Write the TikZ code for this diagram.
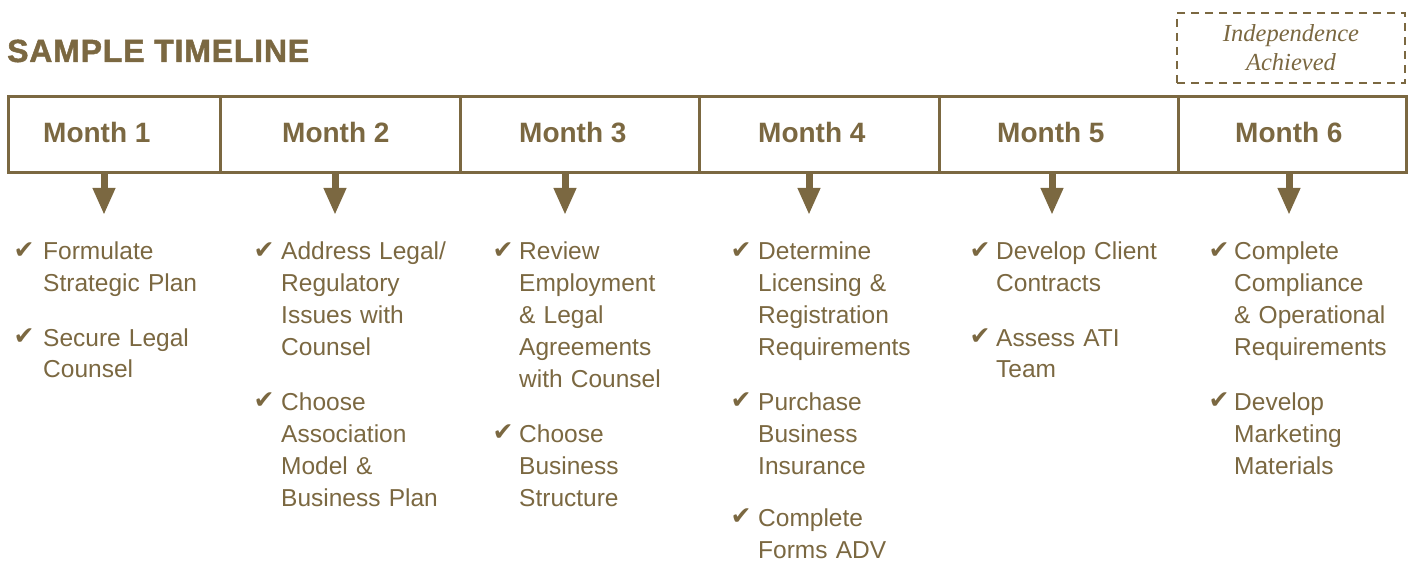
\documentclass[tikz,border=0pt]{standalone}
\usepackage{fontspec}
\usepackage{graphicx}
\setmainfont{Liberation Sans}
\newfontfamily\titlefont{Liberation Sans Bold}[FakeBold=1.5,LetterSpace=2.5]
\newfontfamily\serifit{Liberation Serif Italic}
\newfontfamily\checkfont{DejaVu Sans}
\usetikzlibrary{arrows.meta}
\definecolor{brn}{RGB}{123,104,65}
\tikzset{
  cell/.style={draw=brn, line width=3pt, minimum height=76pt, inner sep=0pt, anchor=north west},
  month/.style={anchor=base west, inner sep=0pt, text=brn, font=\fontsize{28}{30}\selectfont\bfseries},
  item/.style={anchor=base west, inner sep=0pt, text=brn, text width=220pt, align=left, font=\fontsize{24.5}{32}\selectfont},
  chk/.style={inner sep=0pt, text=brn, font=\checkfont\fontsize{25}{25}\selectfont},
  arr/.style={draw=brn, line width=7pt, -{Triangle[width=21pt,length=27pt]}},
}
\begin{document}
\begin{tikzpicture}[x=1pt,y=-1pt]
\useasboundingbox (0,0) rectangle (1411,561);
% title
\node[anchor=base west, inner sep=0pt, text=brn, font=\titlefont\fontsize{32}{34}\selectfont] (title) at (7,62) {SAMPLE TIMELINE};
% independence box
\node[draw=brn, dashed, dash pattern=on 8pt off 6pt, line width=1.6pt, minimum width=228pt, minimum height=70pt, inner sep=0pt, text=brn, align=center, font=\serifit\fontsize{24.5}{29}\selectfont] (indep) at (1291,48) {Independence\\Achieved};
% cells
\node[cell, minimum width=212pt] (c1) at (7,95) {};
\node[cell, minimum width=240pt] (c2) at (219,95) {};
\node[cell, minimum width=239pt] (c3) at (459,95) {};
\node[cell, minimum width=240pt] (c4) at (698,95) {};
\node[cell, minimum width=239pt] (c5) at (938,95) {};
\node[cell, minimum width=228pt] (c6) at (1177,95) {};
% month labels
\node[month] (m1) at (43,143) {Month 1};
\node[month] (m2) at (282,143) {Month 2};
\node[month] (m3) at (519,143) {Month 3};
\node[month] (m4) at (758,143) {Month 4};
\node[month] (m5) at (997,143) {Month 5};
\node[month] (m6) at (1235,143) {Month 6};
% arrows
\coordinate (a1) at (104,215);
\coordinate (a2) at (335,215);
\coordinate (a3) at (565,215);
\coordinate (a4) at (809,215);
\coordinate (a5) at (1052,215);
\coordinate (a6) at (1289,215);
\draw[arr] (c1.south -| a1) -- (a1);
\draw[arr] (c2.south -| a2) -- (a2);
\draw[arr] (c3.south -| a3) -- (a3);
\draw[arr] (c4.south -| a4) -- (a4);
\draw[arr] (c5.south -| a5) -- (a5);
\draw[arr] (c6.south -| a6) -- (a6);
% column 1
\node[chk] (k11) at (24,251) {✔};
\node[item] (i11) at (43,260) {Formulate\\Strategic Plan};
\node[chk] (k12) at (24,337) {✔};
\node[item] (i12) at (43,346) {Secure Legal\\Counsel};
% column 2
\node[chk] (k21) at (264,251) {✔};
\node[item] (i21) at (281,260) {Address Legal/\\Regulatory\\Issues with\\Counsel};
\node[chk] (k22) at (264,401) {✔};
\node[item] (i22) at (281,410) {Choose\\Association\\Model \&\\Business Plan};
% column 3
\node[chk] (k31) at (503,251) {✔};
\node[item] (i31) at (519,260) {Review\\Employment\\\& Legal\\Agreements\\with Counsel};
\node[chk] (k32) at (503,433) {✔};
\node[item] (i32) at (519,442) {Choose\\Business\\Structure};
% column 4
\node[chk] (k41) at (741,251) {✔};
\node[item] (i41) at (758,260) {Determine\\Licensing \&\\Registration\\Requirements};
\node[chk] (k42) at (741,401) {✔};
\node[item] (i42) at (758,410) {Purchase\\Business\\Insurance};
\node[chk] (k43) at (741,517) {✔};
\node[item] (i43) at (758,526) {Complete\\Forms ADV};
% column 5
\node[chk] (k51) at (980,251) {✔};
\node[item] (i51) at (996,260) {Develop Client\\Contracts};
\node[chk] (k52) at (980,337) {✔};
\node[item] (i52) at (996,346) {Assess ATI\\Team};
% column 6
\node[chk] (k61) at (1219,251) {✔};
\node[item] (i61) at (1234,260) {Complete\\Compliance\\\& Operational\\Requirements};
\node[chk] (k62) at (1219,401) {✔};
\node[item] (i62) at (1234,410) {Develop\\Marketing\\Materials};
\end{tikzpicture}
\end{document}
